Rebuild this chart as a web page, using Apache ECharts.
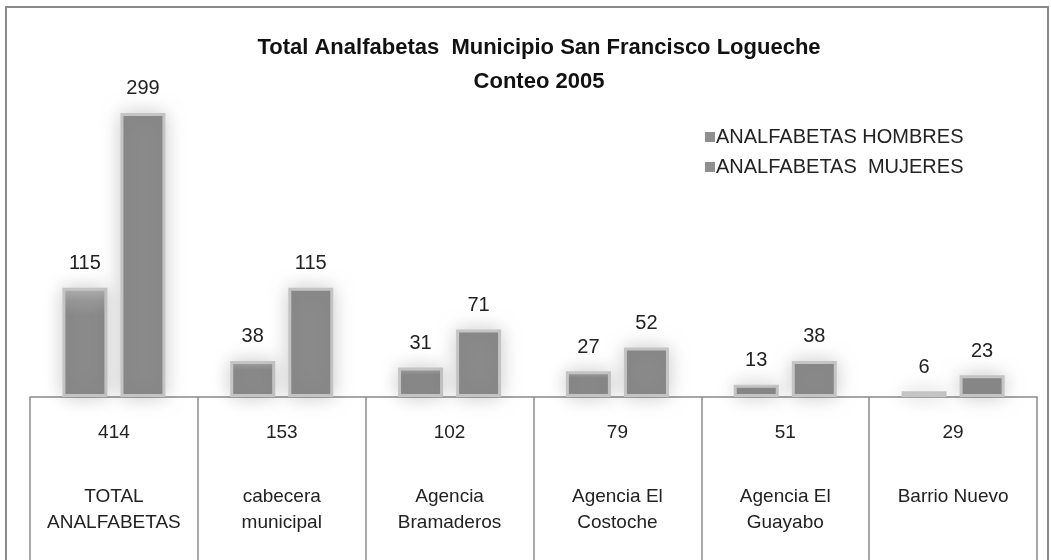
<!DOCTYPE html>
<html lang="es">
<head>
    <meta charset="UTF-8">
    <title>Total Analfabetas</title>
    <script src="https://cdn.jsdelivr.net/npm/echarts@6/dist/echarts.min.js"></script>
    <style>
        body { margin: 0; overflow: hidden; background: #fff; }
        #frame { position: absolute; left: 5px; top: 6px; width: 1040px; height: 600px; border: 2px solid #8a8a8a; }
        #chart { position: absolute; left: 0; top: 0; width: 1051px; height: 560px; }
    </style>
</head>
<body>
<div id="frame"></div>
<div id="chart"></div>
<script type="text/javascript">
    var categories = ['TOTAL\nANALFABETAS', 'cabecera\nmunicipal', 'Agencia\nBramaderos',
        'Agencia El\nCostoche', 'Agencia El\nGuayabo', 'Barrio Nuevo'];
    var hombres = [115, 38, 31, 27, 13, 6];
    var mujeres = [299, 115, 71, 52, 38, 23];
    var totales = [414, 153, 102, 79, 51, 29];

    var font = '"Liberation Sans", Arial, sans-serif';
    var chart = echarts.init(document.getElementById('chart'));

    var barStyle = {
        color: '#8b8b8b',
        borderColor: '#c4c4c4',
        borderWidth: 3,
        shadowBlur: 20,
        shadowColor: 'rgba(0,0,0,0.2)'
    };

    var option = {
        animation: false,
        title: {
            text: 'Total Analfabetas  Municipio San Francisco Logueche\nConteo 2005',
            left: 534,
            textAlign: 'center',
            top: 26,
            textStyle: {fontFamily: font, fontSize: 22, fontWeight: 'bold', color: '#111', lineHeight: 34}
        },
        legend: {
            orient: 'vertical',
            left: 700,
            top: 122,
            icon: 'rect',
            itemWidth: 10,
            itemHeight: 10,
            itemGap: 10,
            itemStyle: {color: '#8f8f8f', borderWidth: 0, shadowBlur: 0},
            textStyle: {fontFamily: font, fontSize: 20, color: '#222', padding: [0, 0, 0, -4]},
            data: ['ANALFABETAS HOMBRES', 'ANALFABETAS  MUJERES']
        },
        grid: {left: 30, right: 14, top: 83.5, bottom: 163},
        xAxis: {
            type: 'category',
            data: categories,
            axisLine: {lineStyle: {color: '#8a8a8a', width: 1.5}},
            axisTick: {show: true, length: 170, interval: 0, lineStyle: {color: '#8a8a8a', width: 1.5}},
            axisLabel: {
                interval: 0,
                margin: 26,
                formatter: function (value, idx) {
                    var lines = value.split('\n');
                    var s = '{t|' + totales[idx] + '}\n{g| }';
                    lines.forEach(function (l) { s += '\n{n|' + l + '}'; });
                    return s;
                },
                rich: {
                    t: {fontFamily: font, fontSize: 19, color: '#222', lineHeight: 20},
                    g: {fontSize: 10, lineHeight: 41},
                    n: {fontFamily: font, fontSize: 19, color: '#222', lineHeight: 26}
                }
            }
        },
        yAxis: {
            type: 'value',
            min: 0,
            max: 330,
            show: false,
            splitLine: {show: false}
        },
        series: [
            {
                name: 'ANALFABETAS HOMBRES',
                type: 'bar',
                barWidth: 45,
                barGap: '29%',
                data: hombres,
                itemStyle: {
                    color: new echarts.graphic.LinearGradient(0, 0, 0, 1, [
                        {offset: 0, color: '#b5b5b5'},
                        {offset: 0.12, color: '#9a9a9a'},
                        {offset: 0.25, color: '#8b8b8b'},
                        {offset: 1, color: '#8b8b8b'}
                    ]),
                    borderColor: barStyle.borderColor,
                    borderWidth: barStyle.borderWidth,
                    shadowBlur: barStyle.shadowBlur,
                    shadowColor: barStyle.shadowColor
                },
                label: {show: true, position: 'top', distance: 14, fontFamily: font, fontSize: 20, color: '#222'}
            },
            {
                name: 'ANALFABETAS  MUJERES',
                type: 'bar',
                barWidth: 45,
                data: mujeres,
                itemStyle: barStyle,
                label: {show: true, position: 'top', distance: 14, fontFamily: font, fontSize: 20, color: '#222'}
            }
        ]
    };

    chart.setOption(option);
</script>
</body>
</html>
